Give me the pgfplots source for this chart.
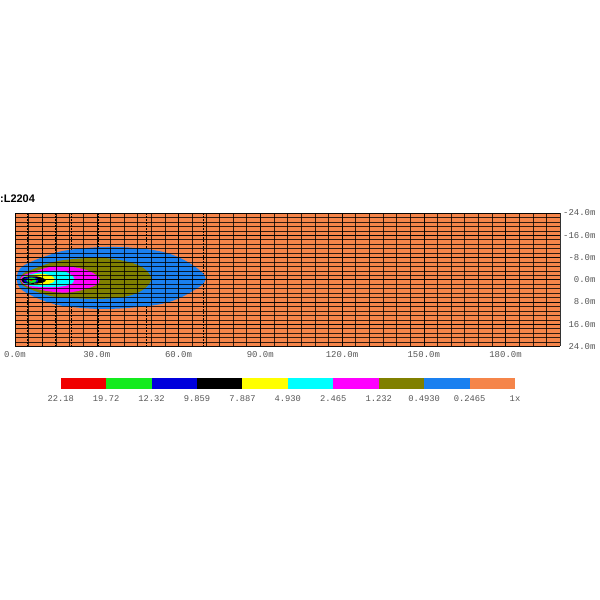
\documentclass[border=0pt]{standalone}
\usepackage{fontspec}
\setmainfont{Liberation Sans}
\newfontfamily\monofont{Liberation Mono}
\usepackage{pgfplots}
\pgfplotsset{compat=1.18}

\definecolor{bgorange}{RGB}{245,133,74}
\definecolor{lvlblue}{RGB}{26,128,240}
\definecolor{lvlolive}{RGB}{128,128,0}
\definecolor{lvlmag}{RGB}{255,0,255}
\definecolor{lvlcyan}{RGB}{0,255,255}
\definecolor{lvlyel}{RGB}{255,255,0}
\definecolor{lvldblue}{RGB}{0,0,220}
\definecolor{lvlgreen}{RGB}{20,235,30}
\definecolor{lvlred}{RGB}{240,0,0}
\definecolor{labgray}{RGB}{85,85,85}

\begin{document}
\begin{tikzpicture}
\path[use as bounding box] (0,0) rectangle (600bp,600bp);

\node[anchor=west, inner sep=0pt, font=\fontsize{11}{12}\selectfont\bfseries] at (0bp,401bp) {:L2204};

% main irradiance map
\begin{axis}[
    at={(15bp,253.5bp)}, anchor=south west,
    scale only axis, width=545bp, height=133.5bp,
    xmin=0, xmax=200, ymin=-24, ymax=24,
    y dir=reverse,
    axis background/.style={fill=bgorange},
    axis on top,
    axis line style={draw=none},
    major tick length=0pt, minor tick length=0pt,
    xtick={0,30,...,180},
    xticklabels={0.0m,30.0m,60.0m,90.0m,120.0m,150.0m,180.0m},
    minor xtick={0,5,...,200},
    ytick={-24,-16,-8,0,8,16,24},
    yticklabels={-24.0m,-16.0m,-8.0m,0.0m,8.0m,16.0m,24.0m},
    minor ytick={-24,-22.4,-20.8,-19.2,-17.6,-16,-14.4,-12.8,-11.2,-9.6,-8,-6.4,-4.8,-3.2,-1.6,0,1.6,3.2,4.8,6.4,8,9.6,11.2,12.8,14.4,16,17.6,19.2,20.8,22.4,24},
    yticklabel pos=right,
    grid=both,
    major grid style={black, line width=0.5bp, opacity=0.8},
    minor grid style={black, line width=0.5bp, opacity=0.8},
    ticklabel style={font=\monofont\fontsize{9}{10}\selectfont, text=labgray},
    yticklabel style={anchor=east, xshift=39bp},
    xticklabel style={yshift=-1.5bp},
]
% distance marker lines
\addplot[black, line width=0.4bp, dash pattern=on 1.5bp off 1.5bp] coordinates {(4.5,-24) (4.5,24)};
\addplot[black, line width=0.4bp, dash pattern=on 1.5bp off 1.5bp] coordinates {(10,-24) (10,24)};
\addplot[black, line width=0.4bp, dash pattern=on 1.5bp off 1.5bp] coordinates {(14.6,-24) (14.6,24)};
\addplot[black, line width=0.4bp, dash pattern=on 1.5bp off 1.5bp] coordinates {(20.7,-24) (20.7,24)};
\addplot[black, line width=0.4bp, dash pattern=on 1.5bp off 1.5bp] coordinates {(30.5,-24) (30.5,24)};
\addplot[black, line width=0.4bp, dash pattern=on 1.5bp off 1.5bp] coordinates {(48,-24) (48,24)};
\addplot[black, line width=0.4bp, dash pattern=on 1.5bp off 1.5bp] coordinates {(69,-24) (69,24)};

% 0.2465
\addplot[fill=lvlblue, draw=none, smooth, tension=0.6] coordinates {
(0.6,-0.5) (1.2,-3) (3,-5) (6.7,-6.8) (12.8,-9) (19,-10.6) (31,-11.7) (43,-11.5)
(55.5,-9.7) (65,-5.4) (70,-0.3) (65,4.2) (55.5,8.3) (43,10) (31,10.5) (19,9.6)
(12.8,8.3) (6.7,6) (1.8,3) (0.6,-0.5)} -- cycle;
% 0.4930
\addplot[fill=lvlolive, draw=none, smooth, tension=0.6] coordinates {
(1.8,-0.3) (3,-2.2) (6.7,-3.8) (12.8,-6) (19,-7.2) (31,-7.9) (40.8,-6.6) (47,-4.3)
(50,-0.3) (47,3.6) (40.8,6) (31,6.9) (19,6.5) (12.8,5.8) (6.7,3.8) (2.5,1.8) (1.8,-0.3)} -- cycle;
% 1.232
\addplot[fill=lvlmag, draw=none, smooth, tension=0.6] coordinates {
(2,-0.3) (3,-1.6) (6.7,-2.8) (12.8,-4.6) (19,-4.8) (26,-3.6) (30.5,-1.2) (31,0.3)
(30,1.8) (25,3.6) (19,4.6) (12.8,4.2) (6.7,3) (3,1.5) (2,-0.3)} -- cycle;
% 2.465
\addplot[fill=lvlcyan, draw=none, smooth, tension=0.6] coordinates {
(2.5,0) (3.5,-1.3) (6.7,-2.2) (12.8,-3.2) (18,-3) (21.3,-1.2) (21.6,0.3) (20.5,1.6)
(16.5,2.5) (10.4,2.6) (5.5,2.2) (3.2,1.2) (2.5,0)} -- cycle;
% 4.930
\addplot[fill=lvlyel, draw=none, smooth, tension=0.6] coordinates {
(3,0) (4,-1.2) (7,-1.9) (10,-2.1) (13,-1.6) (14.6,-0.2) (13.8,1) (11,1.7) (7,1.7) (4,1.1) (3,0)} -- cycle;
% 7.887 / 9.859
\addplot[fill=black, draw=none, smooth, tension=0.6] coordinates {
(2.4,0.1) (3,-0.8) (5,-1.2) (8,-1.2) (10,-0.7) (11.3,0.1) (10.5,0.9) (8,1.4) (5,1.4) (3,1) (2.4,0.1)} -- cycle;
% 12.32
\addplot[fill=lvldblue, draw=none, smooth, tension=0.6] coordinates {
(3.2,0.1) (3.6,-0.6) (5,-0.9) (7.5,-0.8) (8.6,0) (8.3,0.8) (7,1.1) (5,1.1) (3.6,0.8) (3.2,0.1)} -- cycle;
% 19.72
\addplot[fill=lvlgreen, draw=none, smooth, tension=0.6] coordinates {
(4.2,0.2) (4.8,-0.5) (6,-0.75) (7.4,-0.5) (7.9,0.2) (7.4,0.9) (6,1.1) (4.8,0.9) (4.2,0.2)} -- cycle;
% 22.18
\addplot[fill=lvlred, draw=none, smooth] coordinates {
(5.5,0.15) (6,-0.15) (6.5,0.15) (6,0.45) (5.5,0.15)} -- cycle;
\end{axis}

% colour scale
\begin{axis}[
    at={(60.7bp,211bp)}, anchor=south west,
    scale only axis, width=454.3bp, height=11bp,
    xmin=0, xmax=10, ymin=0, ymax=1,
    axis line style={draw=none},
    major tick length=0pt,
    ytick=\empty,
    xtick={0,1,...,10},
    xticklabels={22.18,19.72,12.32,9.859,7.887,4.930,2.465,1.232,0.4930,0.2465,1x},
    ticklabel style={font=\monofont\fontsize{8.8}{10}\selectfont, text=labgray},
    xticklabel style={yshift=-3bp},
    clip=false,
]
\addplot[fill=lvlred, draw=none] coordinates {(0,0) (1,0) (1,1) (0,1)} -- cycle;
\addplot[fill=lvlgreen, draw=none] coordinates {(1,0) (2,0) (2,1) (1,1)} -- cycle;
\addplot[fill=lvldblue, draw=none] coordinates {(2,0) (3,0) (3,1) (2,1)} -- cycle;
\addplot[fill=black, draw=none] coordinates {(3,0) (4,0) (4,1) (3,1)} -- cycle;
\addplot[fill=lvlyel, draw=none] coordinates {(4,0) (5,0) (5,1) (4,1)} -- cycle;
\addplot[fill=lvlcyan, draw=none] coordinates {(5,0) (6,0) (6,1) (5,1)} -- cycle;
\addplot[fill=lvlmag, draw=none] coordinates {(6,0) (7,0) (7,1) (6,1)} -- cycle;
\addplot[fill=lvlolive, draw=none] coordinates {(7,0) (8,0) (8,1) (7,1)} -- cycle;
\addplot[fill=lvlblue, draw=none] coordinates {(8,0) (9,0) (9,1) (8,1)} -- cycle;
\addplot[fill=bgorange, draw=none] coordinates {(9,0) (10,0) (10,1) (9,1)} -- cycle;
\end{axis}
\end{tikzpicture}
\end{document}
